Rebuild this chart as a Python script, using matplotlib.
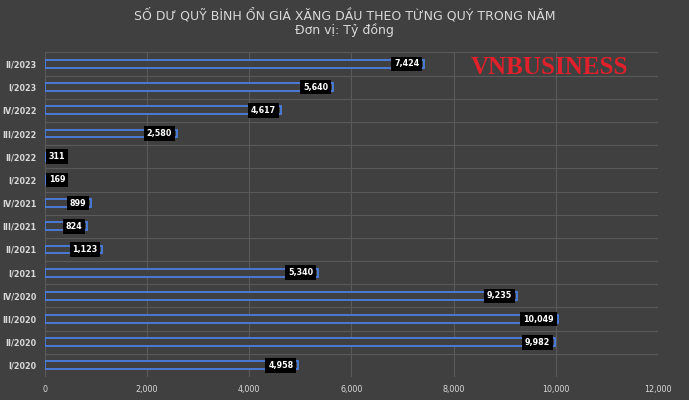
import matplotlib
matplotlib.use("Agg")
import matplotlib.pyplot as plt
import numpy as np

categories = ["I/2020","II/2020","III/2020","IV/2020","I/2021","II/2021","III/2021","IV/2021",
              "I/2022","II/2022","III/2022","IV/2022","I/2023","II/2023"]
values = [4958, 9982, 10049, 9235, 5340, 1123, 824, 899, 169, 311, 2580, 4617, 5640, 7424]
xticks = [0, 2000, 4000, 6000, 8000, 10000, 12000]

bg = "#404040"
fig = plt.figure(figsize=(6.89, 4.0), dpi=100, facecolor=bg)
ax = fig.add_axes([0.065, 0.0575, 0.89, 0.8115], facecolor=bg)
y = np.arange(len(categories))
ax.barh(y, values, height=0.34, color=bg, edgecolor="#4a7fe0", linewidth=1.3)
for i, v in enumerate(values):
    kw = dict(va="center", color="white", fontsize=5.8, fontweight="bold",
              bbox=dict(boxstyle="square,pad=0.35", fc="black", ec="none"))
    if v < 600:
        ax.text(80, i, f"{v:,}", ha="left", **kw)
    else:
        ax.text(v - 90, i, f"{v:,}", ha="right", **kw)
ax.set_yticks(y)
ax.set_yticklabels(categories, color="#d9d9d9", fontsize=5.8, fontweight="bold")
ax.set_yticks(np.arange(-0.5, len(categories), 1), minor=True)
ax.set_xticks(xticks)
ax.set_xticklabels([f"{t:,}" for t in xticks], color="#d9d9d9", fontsize=5.8)
ax.set_xlim(0, 12000)
ax.set_ylim(-0.5, len(categories) - 0.5)
ax.grid(True, axis="x", color="#5a5a5a", linewidth=0.8)
ax.grid(True, axis="y", which="minor", color="#5a5a5a", linewidth=0.8)
ax.set_axisbelow(True)
for s in ax.spines.values():
    s.set_visible(False)
ax.tick_params(length=0, pad=6, which="both")
fig.text(0.5, 0.962, "SỐ DƯ QUỸ BÌNH ỔN GIÁ XĂNG DẦU THEO TỪNG QUÝ TRONG NĂM",
         ha="center", va="center", color="#d9d9d9", fontsize=9)
fig.text(0.5, 0.924, "Đơn vị: Tỷ đồng", ha="center", va="center", color="#d9d9d9", fontsize=9)
fig.text(0.797, 0.832, "VNBUSINESS", ha="center", va="center", color="#e0202a",
         fontsize=18, family="Liberation Serif", fontweight="bold", fontstretch="condensed")
fig.savefig("out.png", dpi=100, facecolor=bg)
